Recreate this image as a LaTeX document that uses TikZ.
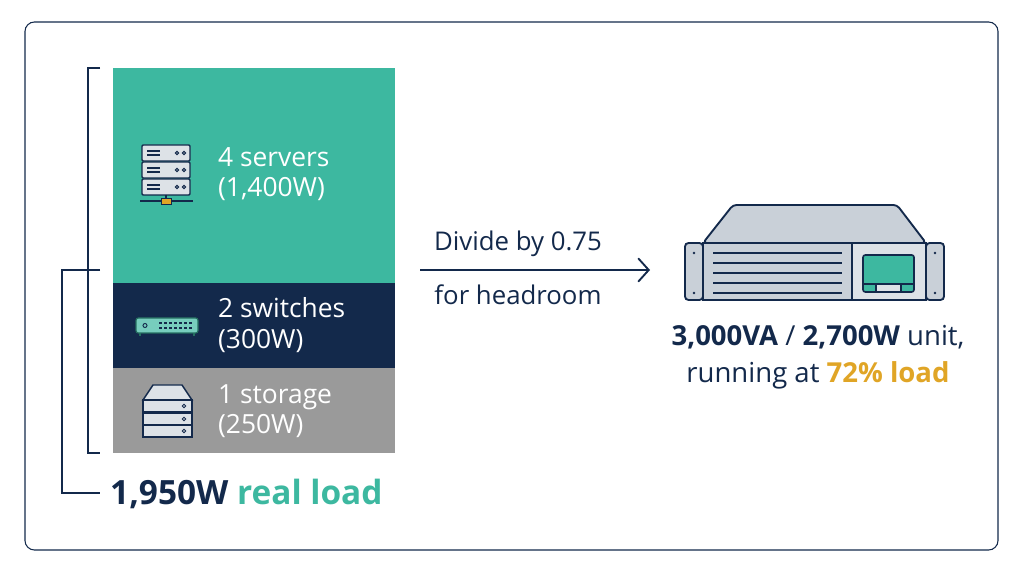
\documentclass[tikz,border=0pt]{standalone}
\usepackage{fontspec}
\setmainfont{Open Sans}
\usetikzlibrary{positioning, arrows.meta}
\definecolor{teal}{HTML}{3DB8A0}
\definecolor{navy}{HTML}{13294B}
\definecolor{slab}{HTML}{9A9A9A}
\definecolor{gold}{HTML}{E0A526}
\definecolor{metal}{HTML}{C9D0D8}
\definecolor{metallite}{HTML}{DDE2E7}
\tikzset{
	lbl/.style={white, font=\fontsize{22.5}{26}\selectfont, align=left, anchor=west},
	icon/.style={draw=navy, line width=1.2pt},
}
\begin{document}
\begin{tikzpicture}[x=0.03cm, y=-0.03cm]
	\useasboundingbox (0,0) rectangle (1024,572);
	\draw[navy, line width=0.9pt, rounded corners=8pt] (25,22) rectangle (998,550);
	%
	\fill[teal] (113,68) rectangle (395,283);
	\fill[navy] (113,283) rectangle (395,368);
	\fill[slab] (113,368) rectangle (395,453);
	%
	\coordinate (ta) at (100,68);
	\coordinate (tb) at (100,453);
	\coordinate (tc) at (100,270);
	\coordinate (td) at (100,493);
	\draw[navy, line width=2.2pt] (ta) -- (88,68) -- (88,453) -- (tb);
	\draw[navy, line width=2.2pt] (tc) -- (62,270) -- (62,493) -- (td);
	\node[anchor=west, inner sep=0pt, font=\fontsize{28.5}{32}\selectfont\bfseries] (total) at (110,494)
		{\textcolor{navy}{1,950W} \textcolor{teal}{real load}};
	%
	\node[lbl] (srv) at (214,174) {4 servers\\(1,400W)};
	\node[lbl] (sw) at (214,325) {2 switches\\(300W)};
	\node[lbl] (sto) at (214,411) {1 storage\\(250W)};
	%
	% server icon
	\foreach \y in {145,162,179}{
		\draw[icon, fill=metallite, rounded corners=1pt] (142,\y) rectangle (190,\y+16);
		\draw[navy, line width=1pt] (147,\y+6) -- (160,\y+6) (147,\y+10) -- (160,\y+10);
		\draw[navy, line width=0.8pt] (177,\y+8) circle (1.6) (184,\y+8) circle (1.6);
	}
	\draw[icon] (166,195) -- (166,201) (140,201) -- (193,201);
	\draw[navy, fill=gold, line width=0.8pt] (161,198) rectangle (171,204);
	%
	% switch icon
	\draw[icon, draw=teal!60!black, fill=teal!70!white, line width=1pt, rounded corners=2pt] (136,318) rectangle (198,333);
	\draw[teal!60!black, line width=1.5pt] (140,333) -- (140,336) (194,333) -- (194,336);
	\draw[navy, line width=0.8pt] (145,325.5) circle (2);
	\foreach \x in {159,164,...,189}{
		\fill[navy] (\x,322) rectangle (\x+2.5,324.5);
		\fill[navy] (\x,327) rectangle (\x+2.5,329.5);
	}
	%
	% storage icon
	\draw[icon, fill=metallite] (143,400) -- (153,385) -- (182,385) -- (192,400) -- cycle;
	\foreach \y in {400,413,425}{
		\draw[icon, fill=metallite] (143,\y) rectangle (192,\y+12);
		\draw[navy, line width=0.8pt] (184,\y+6) circle (1.8);
	}
	%
	% arrow
	\coordinate (aa) at (420,270);
	\coordinate (ab) at (650,270);
	\draw[navy, line width=1.6pt, -{Straight Barb[length=9pt, width=20pt, line width=1.6pt]}] (aa) -- (ab);
	\node[navy, font=\fontsize{22}{26}\selectfont] (div) at (518,244) {Divide by 0.75};
	\node[navy, font=\fontsize{22}{26}\selectfont] (head) at (518,295) {for headroom};
	%
	% ups unit
	\draw[icon, line width=1.6pt, fill=metal, rounded corners=3pt] (703,243) -- (733,205) -- (897,205) -- (926,243) -- cycle;
	\draw[icon, line width=1.6pt, fill=metal, rounded corners=3pt] (685,243) rectangle (703,300);
	\draw[icon, line width=1.6pt, fill=metal, rounded corners=3pt] (926,243) rectangle (944,300);
	\draw[icon, line width=1.6pt, fill=metal] (703,243) rectangle (852,300);
	\draw[icon, line width=1.6pt, fill=metallite] (852,243) rectangle (926,300);
	\foreach \y in {253,263,273,283,293}
		\draw[navy, line width=1.4pt] (713,\y) -- (842,\y);
	\foreach \y in {253,293}{
		\fill[navy] (694,\y) circle (1.3);
		\fill[navy] (935,\y) circle (1.3);
	}
	\draw[icon, line width=1.4pt, fill=teal, rounded corners=2pt] (863,255) rectangle (914,292);
	\draw[navy, line width=1.2pt] (863,284) -- (914,284) (876,284) -- (876,292) (901,284) -- (901,292);
	\fill[metallite] (876.8,284.8) rectangle (900.2,291.2);
	%
	\node[navy, align=center, font=\fontsize{23.5}{32}\selectfont] (cap) at (818,357)
		{\textbf{3,000VA} / \textbf{2,700W} unit,\\running at \textbf{\textcolor{gold}{72\% load}}};
\end{tikzpicture}
\end{document}
